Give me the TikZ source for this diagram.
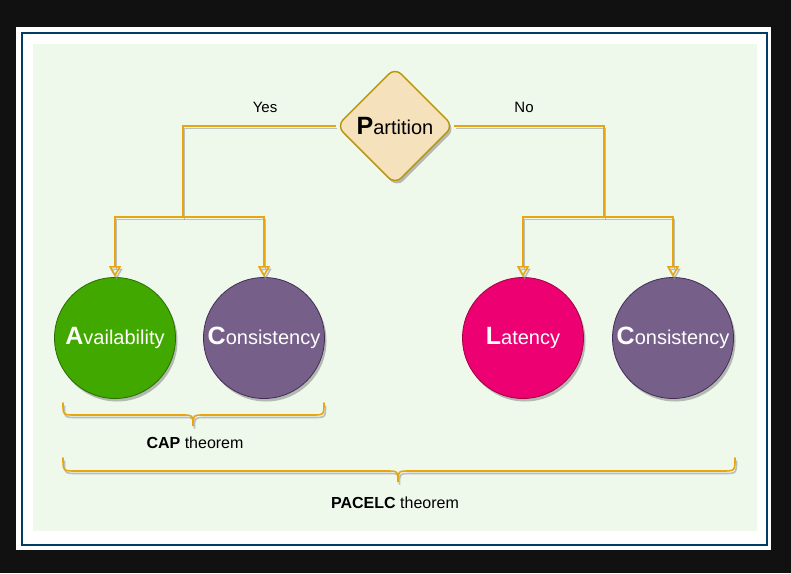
\documentclass[tikz,border=0pt]{standalone}
\usepackage{fontspec}
\setmainfont{Liberation Sans}
\usetikzlibrary{shapes.geometric,arrows.meta,shadows}
\definecolor{bgdark}{RGB}{17,17,17}
\definecolor{framec}{RGB}{0,60,100}
\definecolor{panelc}{RGB}{238,248,235}
\definecolor{diafill}{RGB}{245,225,188}
\definecolor{diadraw}{RGB}{184,150,10}
\definecolor{connc}{RGB}{232,165,15}
\definecolor{greenfill}{RGB}{65,168,0}
\definecolor{greendraw}{RGB}{40,110,0}
\definecolor{purplefill}{RGB}{118,96,138}
\definecolor{purpledraw}{RGB}{67,45,87}
\definecolor{magfill}{RGB}{236,0,114}
\definecolor{magdraw}{RGB}{165,0,64}
\newcommand{\bigini}[2]{{\fontsize{25}{28}\selectfont\bfseries #1}{\fontsize{20}{24}\selectfont #2}}
\tikzset{
  shadowed/.style={drop shadow={shadow xshift=2pt,shadow yshift=-3pt,fill=black,opacity=0.25}},
  circ/.style={circle,minimum size=121pt,inner sep=0pt,text=white,line width=0.8pt,shadowed},
  conn/.style={draw=connc,line width=1.6pt,preaction={draw=black!40,opacity=0.6,line width=1.6pt,transform canvas={shift={(1.5pt,-2.5pt)}}}},
  arr/.style={-{Triangle[open,length=11pt,width=12pt,line width=1.6pt]}},
  lbl/.style={font=\fontsize{15}{18}\selectfont,inner sep=0pt},
  bracec/.style={draw=connc,line width=1.6pt,line cap=round,preaction={draw=black!40,opacity=0.6,line width=1.6pt,transform canvas={shift={(1.5pt,-2.5pt)}}}}
}
\begin{document}
\begin{tikzpicture}[x=1pt,y=-1pt]
\useasboundingbox (0,0) rectangle (791,573);
\fill[bgdark] (0,0) rectangle (791,573);
\fill[white] (16,27) rectangle (771,550);
\draw[framec,line width=2pt] (22,33) rectangle (767,545);
\fill[panelc] (33,44) rectangle (757,531);

\node[diamond,aspect=1,minimum width=117pt,minimum height=117pt,inner sep=0pt,fill=diafill,draw=diadraw,line width=1.4pt,rounded corners=9pt,shadowed] (P) at (395,126) {\bigini{P}{artition}};

\node[circ,fill=greenfill,draw=greendraw] (A) at (115,338) {\bigini{A}{vailability}};
\node[circ,fill=purplefill,draw=purpledraw] (C1) at (264,338) {\bigini{C}{onsistency}};
\node[circ,fill=magfill,draw=magdraw] (L) at (523,338) {\bigini{L}{atency}};
\node[circ,fill=purplefill,draw=purpledraw] (C2) at (673,338) {\bigini{C}{onsistency}};

\coordinate (yj) at (183,217);
\coordinate (nj) at (604,217);
\draw[conn] (P.west) -| (yj);
\draw[conn,arr] (yj) -| (A.north);
\draw[conn,arr] (yj) -| (C1.north);
\draw[conn] (P.east) -| (nj);
\draw[conn,arr] (nj) -| (L.north);
\draw[conn,arr] (nj) -| (C2.north);

\node[lbl] (yes) at (265,107) {Yes};
\node[lbl] (no) at (524,107) {No};

% CAP brace
\draw[bracec] (63,403) .. controls (63,415) .. (75,415) -- (182,415) .. controls (193,415) .. (193,426)
  .. controls (193,415) .. (204,415) -- (312,415) .. controls (324,415) .. (324,403);
\node[lbl,font=\fontsize{16}{19}\selectfont] (cap) at (195,443) {\textbf{CAP} theorem};

% PACELC brace
\draw[bracec] (63,458) .. controls (63,471) .. (76,471) -- (386,471) .. controls (398,471) .. (398,482)
  .. controls (398,471) .. (410,471) -- (722,471) .. controls (735,471) .. (735,458);
\node[lbl,font=\fontsize{16}{19}\selectfont] (pacelc) at (395,503) {\textbf{PACELC} theorem};
\end{tikzpicture}
\end{document}
